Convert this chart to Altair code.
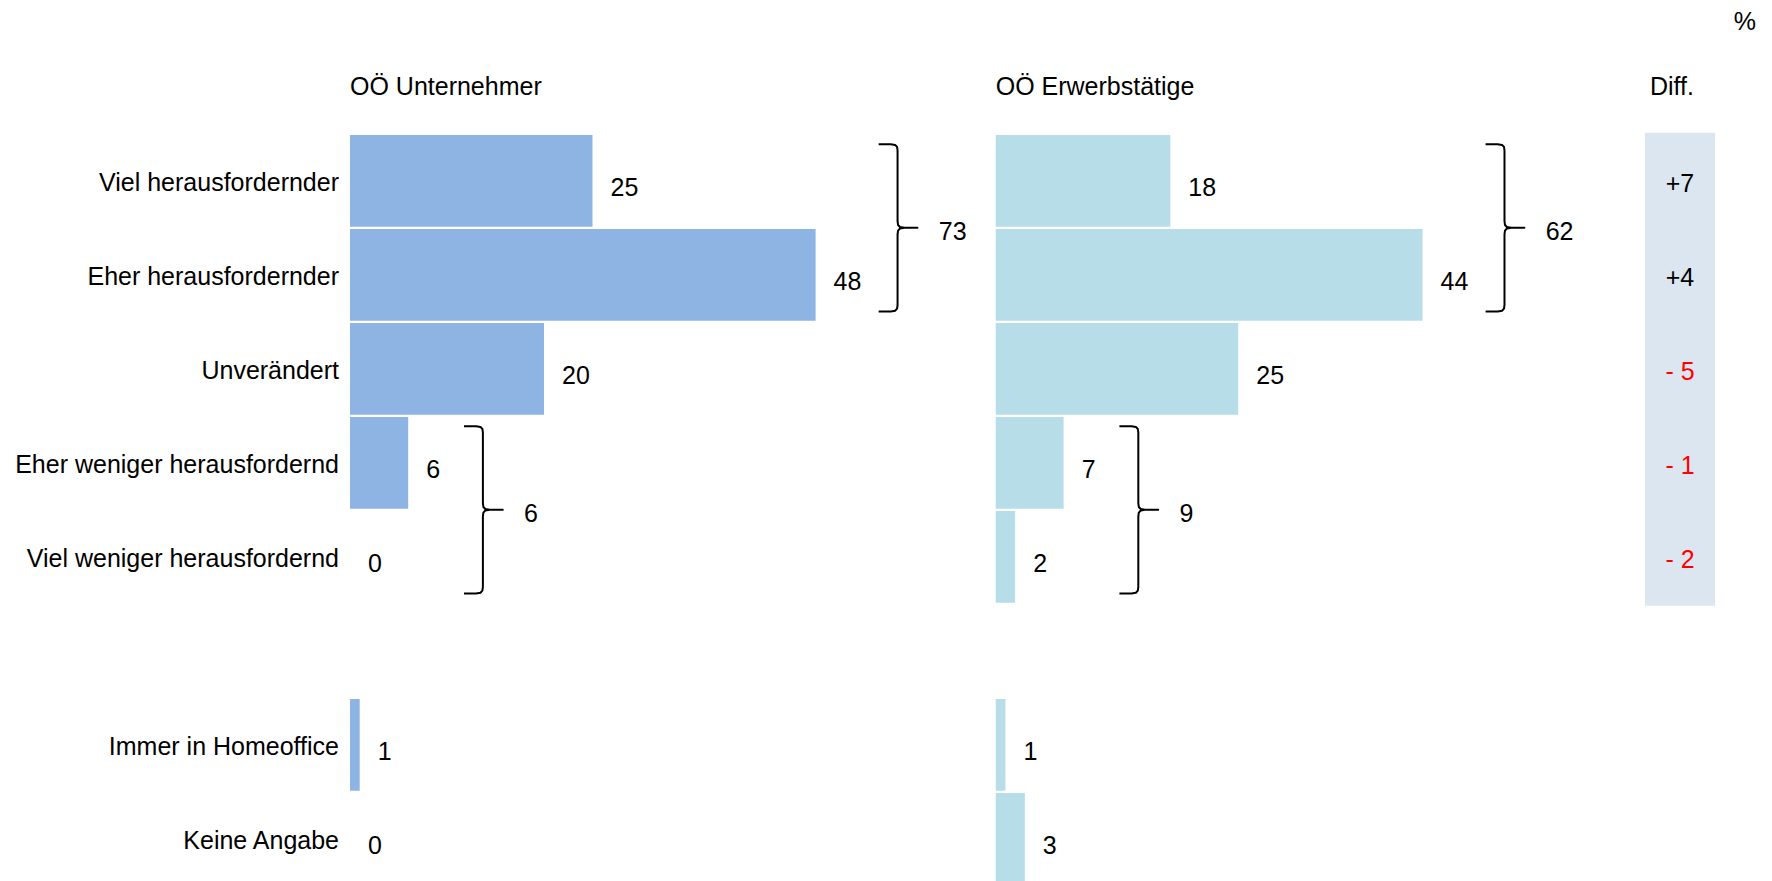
import altair as alt
import pandas as pd

# ---------------- data ----------------
CATEGORIES = [
    "Viel herausfordernder",
    "Eher herausfordernder",
    "Unverändert",
    "Eher weniger herausfordernd",
    "Viel weniger herausfordernd",
    "Immer in Homeoffice",
    "Keine Angabe",
]
UNTERNEHMER = [25, 48, 20, 6, 0, 1, 0]
ERWERBSTAETIGE = [18, 44, 25, 7, 2, 1, 3]
PANEL_TITLES = ["OÖ Unternehmer", "OÖ Erwerbstätige"]
DIFF_TITLE = "Diff."
UNIT_LABEL = "%"
BRACE_GROUPS = [[0, 1], [3, 4]]   # category indices joined by a brace
N_MAIN = 5                        # categories that carry a difference

# ---------------- layout ----------------
FONT = "Liberation Sans"
FS = 25
W, H = 1756, 873
UNIT_PX = 9.7
LEFT_ZERO_PX = 342
X_MIN = -LEFT_ZERO_PX / UNIT_PX
X_MAX = (W - LEFT_ZERO_PX) / UNIT_PX
ROW_PX = 94.0
ROW0_PX = 172.8
Y_MIN = -ROW0_PX / ROW_PX
Y_MAX = (H - ROW0_PX) / ROW_PX
RIGHT_OFFSET = 66.57
DIFF_X0 = (1637 - LEFT_ZERO_PX) / UNIT_PX
DIFF_X1 = (1707 - LEFT_ZERO_PX) / UNIT_PX
PCT_X = (1748 - LEFT_ZERO_PX) / UNIT_PX
TITLE_ROW = (77 - ROW0_PX) / ROW_PX
PCT_ROW = (12 - ROW0_PX) / ROW_PX
BAR_HALF = 0.4875
BRACE_BASE = 6.95
BRACE_PER_DIGIT = 0.75
BRACE_INSET = 0.11
HOOK = 1.95
TIP = 2.05

LEFT_COLOR = "#8EB4E3"
RIGHT_COLOR = "#B7DEE8"
DIFF_BG = "#DCE6F1"

xs = alt.Scale(domain=[X_MIN, X_MAX], nice=False, zero=False)
ys = alt.Scale(domain=[Y_MIN, Y_MAX], nice=False, zero=False, reverse=True)


def row_of(i):
    return i + (1 if i >= N_MAIN else 0)


panels = [("left", 0.0, UNTERNEHMER), ("right", RIGHT_OFFSET, ERWERBSTAETIGE)]

bar_rows = []
for name, off, vals in panels:
    for i, (cat, v) in enumerate(zip(CATEGORIES, vals)):
        r = row_of(i)
        bar_rows.append(dict(panel=name, category=cat, value=v, x0=off, x1=off + v,
                             row=r, y0=r - BAR_HALF, y1=r + BAR_HALF, label=str(v)))
bars_df = pd.DataFrame(bar_rows)

cat_df = pd.DataFrame({"category": CATEGORIES,
                       "row": [row_of(i) for i in range(len(CATEGORIES))],
                       "x": 0.0})

title_df = pd.DataFrame({"text": PANEL_TITLES, "x": [0.0, RIGHT_OFFSET], "row": TITLE_ROW})

diffs = [u - e for u, e in zip(UNTERNEHMER[:N_MAIN], ERWERBSTAETIGE[:N_MAIN])]


def fmt_diff(d):
    if d > 0:
        return f"+{d}"
    if d < 0:
        return f"- {abs(d)}"
    return "0"


diff_df = pd.DataFrame({"diff": diffs, "label": [fmt_diff(d) for d in diffs],
                        "row": [row_of(i) for i in range(N_MAIN)],
                        "x": (DIFF_X0 + DIFF_X1) / 2})
diff_bg_df = pd.DataFrame({"x0": [DIFF_X0], "x1": [DIFF_X1],
                           "y0": [row_of(0) - 0.51], "y1": [row_of(N_MAIN - 1) + 0.52]})

# braces and group totals (brace sits just past the widest bar's label)
brace_pts = []
group_lab = []
bid = 0
for name, off, vals in panels:
    for grp in BRACE_GROUPS:
        gvals = [vals[i] for i in grp]
        r_top, r_bot = row_of(grp[0]), row_of(grp[-1])
        vmax = max(gvals)
        xv = off + vmax + BRACE_BASE + BRACE_PER_DIGIT * len(str(vmax))
        top = r_top - 0.5 + BRACE_INSET
        bot = r_bot + 0.5 - BRACE_INSET
        mid = (r_top + r_bot) / 2
        shape = [
            (xv - HOOK, top), (xv - 0.7, top), (xv - 0.25, top + 0.008), (xv - 0.05, top + 0.03),
            (xv, top + 0.07),
            (xv, mid - 0.07), (xv + 0.05, mid - 0.03), (xv + 0.25, mid - 0.008), (xv + 0.7, mid),
            (xv + TIP, mid),
            (xv + 0.7, mid), (xv + 0.25, mid + 0.008), (xv + 0.05, mid + 0.03), (xv, mid + 0.07),
            (xv, bot - 0.07), (xv - 0.05, bot - 0.03), (xv - 0.25, bot - 0.008), (xv - 0.7, bot),
            (xv - HOOK, bot),
        ]
        for k, (px, py) in enumerate(shape):
            brace_pts.append(dict(brace=bid, order=k, x=px, y=py))
        group_lab.append(dict(x=xv + TIP + 2.2, row=mid, label=str(sum(gvals))))
        bid += 1
brace_df = pd.DataFrame(brace_pts)
group_df = pd.DataFrame(group_lab)

txt = dict(font=FONT, fontSize=FS, color="black")

diff_bg = alt.Chart(diff_bg_df).mark_rect(color=DIFF_BG).encode(
    x=alt.X("x0:Q", scale=xs, axis=None), x2="x1:Q",
    y=alt.Y("y0:Q", scale=ys, axis=None), y2="y1:Q")

bars = alt.Chart(bars_df).mark_rect(clip=True).encode(
    x=alt.X("x0:Q", scale=xs, axis=None), x2="x1:Q",
    y=alt.Y("y0:Q", scale=ys, axis=None), y2="y1:Q",
    color=alt.Color("panel:N", scale=alt.Scale(domain=["left", "right"],
                                               range=[LEFT_COLOR, RIGHT_COLOR]), legend=None))

values = alt.Chart(bars_df).mark_text(align="left", baseline="middle", dx=18, dy=7, **txt).encode(
    x=alt.X("x1:Q", scale=xs, axis=None), y=alt.Y("row:Q", scale=ys, axis=None), text="label:N")

cats = alt.Chart(cat_df).mark_text(align="right", baseline="middle", dx=-11, dy=2, **txt).encode(
    x=alt.X("x:Q", scale=xs, axis=None), y=alt.Y("row:Q", scale=ys, axis=None), text="category:N")

titles = alt.Chart(title_df).mark_text(align="left", baseline="middle", dy=2, **txt).encode(
    x=alt.X("x:Q", scale=xs, axis=None), y=alt.Y("row:Q", scale=ys, axis=None), text="text:N")

diff_title = alt.Chart(pd.DataFrame({"x": [(DIFF_X0 + DIFF_X1) / 2], "row": [TITLE_ROW],
                                     "text": [DIFF_TITLE]})).mark_text(
    align="center", baseline="middle", dx=-8, dy=2, **txt).encode(
    x=alt.X("x:Q", scale=xs, axis=None), y=alt.Y("row:Q", scale=ys, axis=None), text="text:N")

pct = alt.Chart(pd.DataFrame({"x": [PCT_X], "row": [PCT_ROW], "text": [UNIT_LABEL]})).mark_text(
    align="right", baseline="middle", dy=2, **txt).encode(
    x=alt.X("x:Q", scale=xs, axis=None), y=alt.Y("row:Q", scale=ys, axis=None), text="text:N")

braces = alt.Chart(brace_df).mark_line(color="black", strokeWidth=2, strokeJoin="round").encode(
    x=alt.X("x:Q", scale=xs, axis=None), y=alt.Y("y:Q", scale=ys, axis=None),
    detail="brace:N", order=alt.Order("order:Q"))

groups = alt.Chart(group_df).mark_text(align="left", baseline="middle", dy=4, **txt).encode(
    x=alt.X("x:Q", scale=xs, axis=None), y=alt.Y("row:Q", scale=ys, axis=None), text="label:N")

diff_text = alt.Chart(diff_df).mark_text(align="center", baseline="middle", dy=3,
                                         font=FONT, fontSize=FS).encode(
    x=alt.X("x:Q", scale=xs, axis=None), y=alt.Y("row:Q", scale=ys, axis=None), text="label:N",
    color=alt.condition("datum.diff < 0", alt.value("#FF0000"), alt.value("black")))

chart = alt.layer(diff_bg, bars, values, cats, titles, diff_title, pct, braces, groups,
                  diff_text).properties(
    width=W, height=H,
    autosize=alt.AutoSizeParams(type="none"),
    padding={"left": 0, "right": 0, "top": 0, "bottom": 0},
    background="white",
).configure_view(strokeWidth=0)

chart.save("out.html", embed_options={"renderer": "svg", "actions": False})
